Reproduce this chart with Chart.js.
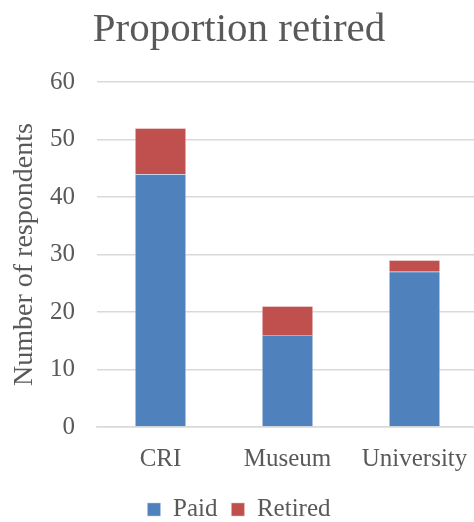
<!DOCTYPE html>
<html>
<head>
<meta charset="utf-8">
<script src="https://cdn.jsdelivr.net/npm/chart.js@4/dist/chart.umd.min.js"></script>
<style>
  html, body { margin: 0; padding: 0; background: #fff; overflow: hidden; }
  #wrap { width: 478px; height: 522px; }
</style>
</head>
<body>
<div id="wrap"><canvas id="myChart" width="478" height="522"></canvas></div>
<script>
const categories = ["CRI", "Museum", "University"];
const paidValues = [44, 16, 27];
const retiredValues = [8, 5, 2];
const yTicks = [0, 10, 20, 30, 40, 50, 60];

const serif = "'Liberation Serif', 'DejaVu Serif', serif";
const grey = "#595959";

new Chart("myChart", {
  type: "bar",
  data: {
    labels: categories,
    datasets: [
      {
        label: "Paid",
        data: paidValues,
        backgroundColor: "#4f81bd",
        borderColor: "#b7cbe4",
        borderWidth: 0.5,
        barPercentage: 0.4,
        categoryPercentage: 1,
      },
      {
        label: "Retired",
        data: retiredValues,
        backgroundColor: "#c0504d",
        borderColor: "#e6b9b8",
        borderWidth: 0.5,
        barPercentage: 0.4,
        categoryPercentage: 1,
      },
    ],
  },
  options: {
    responsive: false,
    animation: false,
    layout: { padding: { top: 6, left: 0, right: 0, bottom: -10 } },
    plugins: {
      title: {
        display: true,
        text: "Proportion retired",
        color: grey,
        font: { family: serif, size: 41, weight: "normal" },
        padding: { top: 0, bottom: 27 },
      },
      legend: {
        position: "bottom",
        labels: {
          color: grey,
          font: { family: serif, size: 25 },
          boxWidth: 13,
          boxHeight: 13,
          padding: 14,
        },
      },
      tooltip: { enabled: false },
    },
    scales: {
      x: {
        stacked: true,
        grid: { display: false },
        border: { color: "#d9d9d9", width: 1.5 },
        ticks: { color: grey, font: { family: serif, size: 25 }, padding: 9 },
      },
      y: {
        stacked: true,
        min: 0,
        max: 60,
        afterBuildTicks: function (axis) {
          axis.ticks = yTicks.map(function (v) { return { value: v }; });
        },
        afterFit: function (axis) { axis.width = 97; },
        grid: { color: "#d9d9d9", lineWidth: 1.5, drawTicks: false },
        border: { display: false },
        ticks: { color: grey, font: { family: serif, size: 25 }, padding: 22 },
        title: {
          display: true,
          text: "Number of respondents",
          color: grey,
          font: { family: serif, size: 28 },
          padding: { top: 8, bottom: 4 },
        },
      },
    },
  },
});
</script>
</body>
</html>
